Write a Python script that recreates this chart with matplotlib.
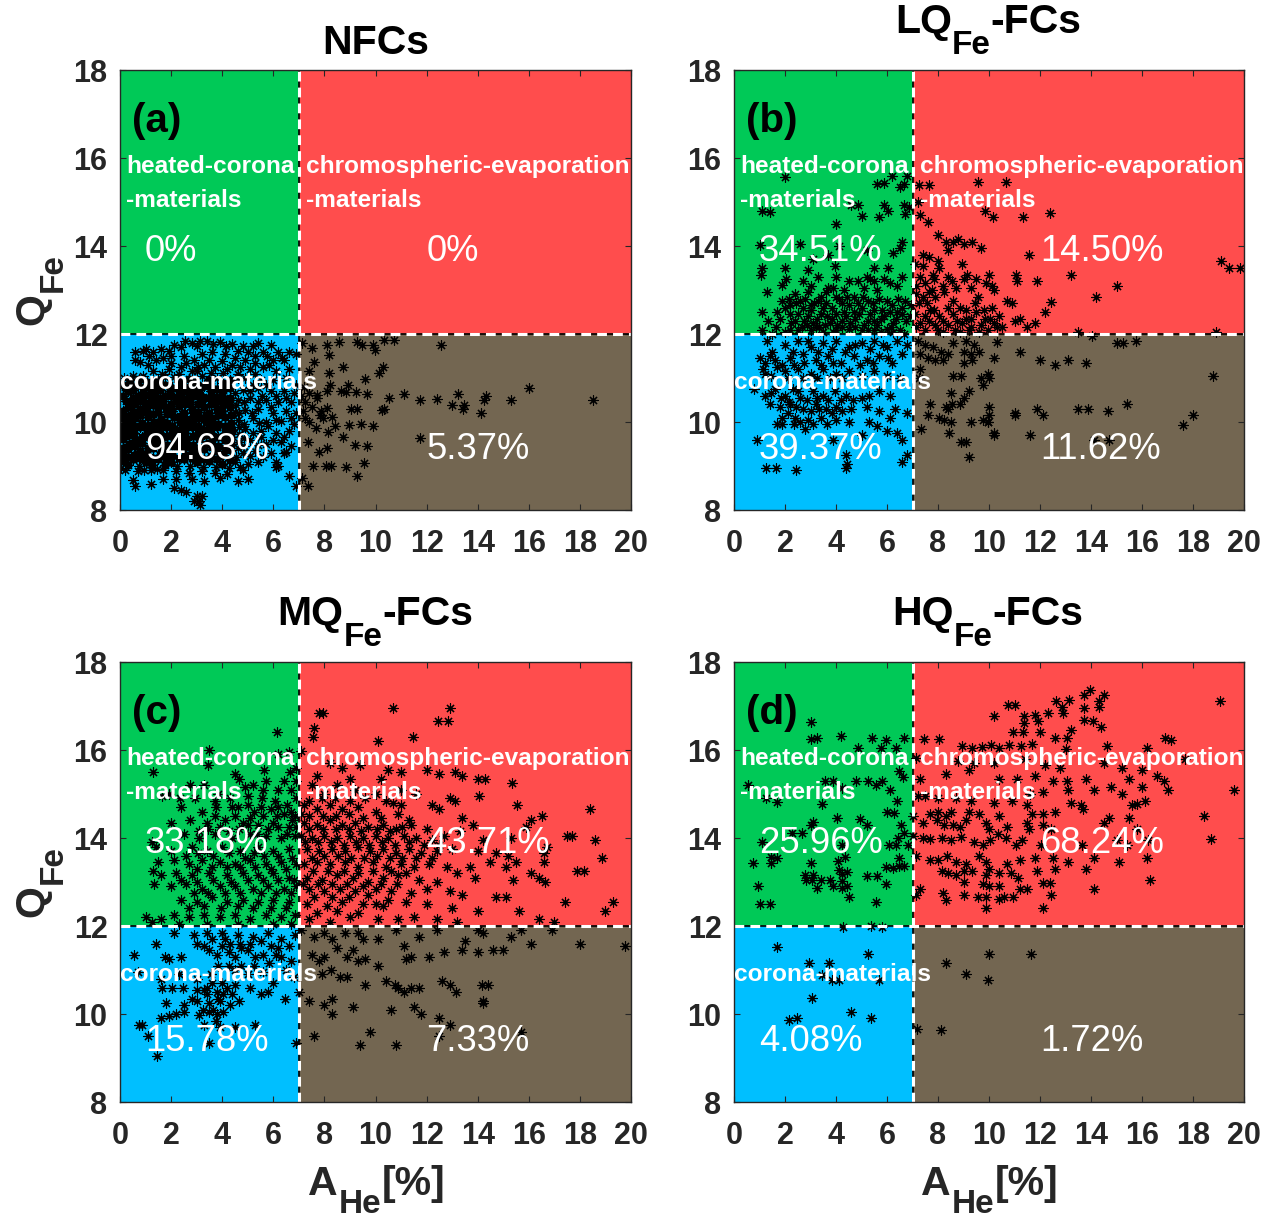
import numpy as np
import matplotlib as mpl
mpl.use('Agg')
import matplotlib.pyplot as plt
from matplotlib.patches import Rectangle

mpl.rcParams['font.family'] = ['Liberation Sans', 'DejaVu Sans']
mpl.rcParams['font.weight'] = 'bold'

tick_x = [0, 2, 4, 6, 8, 10, 12, 14, 16, 18, 20]
tick_y = [8, 10, 12, 14, 16, 18]
panel_tags = ['(a)', '(b)', '(c)', '(d)']
title_heads = ['LQ', 'MQ', 'HQ']
pct_hot = ['0%', '34.51%', '33.18%', '25.96%']
pct_chromo = ['0%', '14.50%', '43.71%', '68.24%']
pct_corona = ['94.63%', '39.37%', '15.78%', '4.08%']
pct_mixed = ['5.37%', '11.62%', '7.33%', '1.72%']

nfc_points = [
    (0.6,11.6),(0.9,11.62),(1.0,11.65),(1.6,11.65),(1.9,11.62),(2.4,11.7),(2.8,11.8),(3.0,11.72),(3.4,11.85),(3.9,11.82),
    (4.4,11.78),(4.8,11.72),(5.2,11.72),(5.9,11.75),(6.2,11.6),(6.9,11.55),(5.4,11.8),(0.6,11.4),(0.8,11.36),(1.1,11.3),
    (1.4,11.4),(1.7,11.45),(2.0,11.5),(2.5,11.5),(2.9,11.4),(3.2,11.55),(3.6,11.6),(4.1,11.55),(4.5,11.45),(5.3,11.5),
    (5.6,11.58),(6.0,11.4),(6.6,11.6),(1.3,11.15),(1.9,11.2),(2.4,11.25),(2.8,11.15),(3.3,11.3),(3.7,11.25),(4.2,11.2),
    (4.7,11.25),(5.1,11.2),(5.6,11.25),(6.1,11.15),(6.6,11.2),(0.5,11.05),(0.9,11.05),(1.5,10.95),(2.1,11.02),(2.7,10.98),
    (3.2,11.05),(3.8,11.0),(4.3,10.95),(4.9,11.0),(5.5,10.95),(6.0,10.95),(6.5,11.0),(6.9,10.85),
    (0.2,10.8),(0.7,10.85),(1.2,10.75),(1.7,10.85),(2.2,10.78),(2.7,10.8),(3.3,10.82),(3.8,10.75),(4.3,10.78),(4.8,10.72),(5.4,10.78),(5.9,10.7),(6.4,10.7),(6.8,10.65),
    (0.1,10.6),(0.5,10.55),(1.0,10.62),(1.5,10.55),(2.0,10.6),(2.5,10.52),(3.0,10.6),(3.5,10.55),(4.0,10.6),(4.6,10.5),(5.1,10.55),(5.7,10.5),(6.2,10.45),(6.7,10.45),
    (0.3,10.35),(0.8,10.3),(1.3,10.38),(1.8,10.32),(2.3,10.36),(2.8,10.3),(3.3,10.35),(3.8,10.3),(4.3,10.35),(4.9,10.28),(5.4,10.3),(6.0,10.2),(6.5,10.25),(6.9,10.2),
    (0.1,10.1),(0.6,10.08),(1.1,10.12),(1.6,10.06),(2.1,10.12),(2.6,10.05),(3.1,10.1),(3.6,10.06),(4.1,10.12),(4.6,10.05),(5.2,10.08),(5.7,10.0),(6.3,10.02),(6.8,9.95),
    (0.3,9.85),(0.8,9.88),(1.3,9.82),(1.8,9.88),(2.3,9.82),(2.8,9.88),(3.3,9.82),(3.8,9.88),(4.4,9.82),(4.9,9.85),(5.5,9.8),(6.1,9.75),(6.6,9.8),
    (0.1,9.62),(0.6,9.6),(1.1,9.65),(1.6,9.58),(2.1,9.62),(2.6,9.58),(3.1,9.62),(3.6,9.58),(4.1,9.6),(4.6,9.55),(5.1,9.6),(5.7,9.5),(6.3,9.55),
    (0.3,9.38),(0.8,9.35),(1.3,9.4),(1.8,9.35),(2.3,9.38),(2.8,9.32),(3.3,9.38),(3.8,9.33),(4.3,9.36),(4.8,9.3),(5.3,9.35),(5.9,9.3),(6.4,9.3),
    (0.1,9.12),(0.5,9.15),(1.0,9.1),(1.5,9.15),(2.0,9.1),(2.5,9.15),(3.0,9.08),(3.5,9.12),(4.0,9.05),(4.5,9.08),(5.0,9.05),(5.4,9.1),(6.1,9.08),
    (0.2,8.9),(0.7,8.88),(1.2,8.9),(1.7,8.92),(2.2,8.88),(2.7,8.85),(3.2,8.88),(3.7,8.85),(4.2,8.82),(4.8,8.9),(6.1,8.98),(5.0,8.7),
    (0.5,8.68),(0.6,8.55),(1.2,8.6),(1.7,8.7),(2.2,8.7),(2.8,8.7),(3.3,8.65),(3.9,8.72),(4.6,8.65),(6.6,8.78),(2.1,8.5),(2.4,8.45),(2.6,8.42),
    (3.0,8.32),(3.2,8.32),(2.9,8.2),(3.1,8.2),(3.15,8.12),(6.9,8.55),(5.6,9.2),(6.2,9.0),(6.5,9.32),
    (7.13,11.8),(7.53,11.68),(8.1,11.76),(8.57,11.81),(9.27,11.81),(9.46,11.74),(9.92,11.74),(9.99,11.63),(10.34,11.87),(10.73,11.87),
    (12.57,11.76),(8.18,11.52),(7.59,11.36),(8.74,11.25),(10.3,11.25),(10.14,11.11),(8.18,11.11),(7.4,11.15),(9.58,10.98),(8.21,10.85),
    (8.94,10.83),(8.64,10.71),(8.84,10.68),(9.23,10.68),(8.12,10.7),(9.66,10.64),(11.13,10.64),(10.54,10.54),(11.74,10.5),(12.39,10.52),
    (13.22,10.64),(14.33,10.6),(14.24,10.51),(13.0,10.38),(13.48,10.38),(13.42,10.3),(14.14,10.2),(10.25,10.27),(10.35,10.3),(9.03,10.3),
    (9.29,10.3),(8.12,10.32),(7.83,10.17),(7.95,10.1),(8.31,10.11),(7.26,10.09),(8.97,9.94),(9.45,9.95),(9.92,9.92),(8.42,9.9),
    (7.68,9.86),(8.14,9.77),(8.74,9.66),(11.74,9.64),(7.37,9.55),(9.2,9.48),(9.66,9.45),(8.09,9.4),(7.79,9.32),(7.55,8.99),
    (8.05,8.99),(8.25,8.99),(8.86,8.98),(9.55,9.07),(9.27,8.78),(7.36,8.55),(7.13,8.73),(15.3,10.5),(16.0,10.78),(18.5,10.5),
    (7.2,10.8),(7.4,10.65),(7.7,10.62),(7.25,10.45),(7.5,10.35),(7.15,10.25),(7.4,10.0),(7.7,10.55),(7.85,10.25),(7.1,10.6),
]

# heavy core of panel (a), where the marks merge to solid black
nfc_core = [
    (0.15,11.0),(0.4,10.95),(0.75,10.98),(1.05,10.9),(1.3,10.92),(1.75,11.02),(2.35,10.92),(2.95,10.9),(3.5,10.95),(4.05,10.88),
    (0.3,10.7),(0.5,10.72),(0.9,10.68),(1.35,10.7),(1.55,10.72),(1.95,10.7),(2.4,10.68),(2.6,10.7),(2.9,10.7),(3.1,10.72),(3.55,10.7),(4.05,10.72),(4.5,10.65),
    (0.25,10.48),(0.7,10.48),(0.85,10.5),(1.2,10.45),(1.7,10.48),(2.2,10.48),(2.4,10.45),(2.75,10.45),(3.2,10.48),(3.7,10.45),(3.85,10.48),(4.25,10.5),(4.85,10.45),
    (0.1,10.25),(0.5,10.22),(1.05,10.25),(1.5,10.22),(2.05,10.25),(2.5,10.2),(3.05,10.22),(3.5,10.2),(4.0,10.25),(4.5,10.22),(4.65,10.2),(5.15,10.2),(0.45,10.38),(1.55,10.38),
    (0.35,10.0),(0.85,9.98),(1.35,10.0),(1.85,9.98),(2.35,10.0),(2.85,9.98),(3.35,10.0),(3.85,9.96),(4.35,9.98),(4.85,9.95),(5.45,9.98),(0.55,10.15),(2.85,10.14),
    (0.1,9.78),(0.55,9.76),(1.05,9.75),(1.55,9.76),(2.05,9.75),(2.55,9.76),(3.05,9.74),(3.55,9.75),(4.1,9.74),(4.65,9.72),(5.2,9.75),(0.35,9.7),(1.85,9.68),(3.35,9.7),
    (0.35,9.5),(0.85,9.52),(1.35,9.5),(1.85,9.48),(2.35,9.52),(2.85,9.48),(3.35,9.5),(3.85,9.46),(4.35,9.5),(4.85,9.45),(0.6,9.46),(2.1,9.45),(3.6,9.44),(5.4,9.48),
    (0.1,9.28),(0.55,9.25),(1.05,9.28),(1.55,9.25),(2.05,9.26),(2.55,9.24),(3.05,9.26),(3.55,9.22),(4.05,9.24),(4.55,9.2),(0.3,9.2),(1.3,9.18),(2.8,9.18),(5.1,9.22),
    (0.3,9.02),(0.75,9.0),(1.25,9.02),(1.75,9.02),(2.25,9.0),(2.75,9.0),(3.25,8.98),(3.75,8.98),(4.25,8.96),(0.95,8.92),(1.45,8.94),(0.05,8.95),(4.7,8.98),
    (0.1,10.85),(0.45,10.82),(0.95,10.8),(1.45,10.82),(1.9,10.84),(2.45,10.83),(3.0,10.84),(3.55,10.82),(4.1,10.82),(0.7,10.6),(1.25,10.58),(1.75,10.6),(2.25,10.57),(2.75,10.57),(3.25,10.56),(3.75,10.57),(4.3,10.55),
    (0.55,10.42),(1.0,10.4),(1.45,10.42),(2.0,10.42),(2.55,10.4),(3.05,10.42),(3.55,10.42),(4.05,10.4),(4.55,10.38),(0.3,10.14),(0.8,10.16),(1.3,10.18),(1.85,10.18),(2.35,10.14),(3.35,10.17),(3.85,10.15),(4.35,10.15),
    (0.1,9.9),(0.55,9.92),(1.05,9.9),(1.55,9.92),(2.05,9.9),(2.55,9.92),(3.05,9.9),(3.55,9.92),(4.1,9.9),(4.65,9.88),(0.85,9.66),(1.35,9.66),(2.35,9.66),(2.85,9.68),(3.85,9.66),(4.35,9.66),(4.85,9.64),
    (0.1,9.42),(1.1,9.42),(1.6,9.42),(2.6,9.43),(3.1,9.42),(4.1,9.42),(4.6,9.4),(0.8,9.18),(1.8,9.18),(2.3,9.18),(3.3,9.17),(3.8,9.16),(4.3,9.14),
    (4.6,11.0),(5.2,10.85),(5.7,10.85),(5.1,10.7),(5.55,10.6),(6.1,10.6),(5.4,10.45),(5.9,10.35),(6.5,10.55),(6.7,10.1),(6.1,10.05),(5.8,9.9),(6.4,9.65),(6.0,9.6),(5.5,9.65),(6.7,9.45),
    (2.0,11.35),(2.6,11.35),(3.05,11.25),(3.5,11.4),(4.0,11.38),(4.4,11.3),(4.9,11.4),(5.3,11.33),(5.85,11.3),(6.4,11.4),(1.65,11.1),(2.3,11.1),(3.0,11.15),(3.55,11.12),(4.05,11.12),(4.6,11.1),(5.3,11.08),
    (2.1,11.75),(2.55,11.85),(3.15,11.85),(3.65,11.78),(4.15,11.72),(4.6,11.62),(5.0,11.6),(5.75,11.5),(6.35,11.45),(1.15,11.5),(1.3,11.6),
]

lq_points = [
    (2.0,15.56),(5.6,15.42),(5.9,15.43),(6.2,15.6),(6.8,15.6),(6.5,15.35),(6.65,15.4),(7.25,15.38),(1.1,14.8),(1.4,14.78),
    (4.6,14.94),(4.85,14.94),(5.0,14.68),(5.9,14.93),(6.05,14.8),(6.65,14.93),(6.85,14.88),(6.7,14.72),(5.7,14.65),(4.0,14.5),
    (1.0,14.02),(4.1,14.0),(2.6,14.05),(3.1,13.7),(3.7,13.8),(5.2,13.9),(6.25,13.85),(6.6,14.1),(6.5,13.95),(2.0,13.5),
    (1.1,13.5),(1.05,13.35),(2.9,13.45),(3.95,13.55),(5.5,13.5),(6.05,13.5),(5.2,13.3),(4.0,13.3),(3.3,13.3),(2.7,13.2),
    (2.05,13.25),(1.9,13.12),(1.3,12.95),(1.35,12.3),(2.6,12.75),(2.9,12.95),(3.4,12.85),(3.9,13.05),(4.5,13.2),(4.85,13.2),(5.35,13.25),
    (5.6,13.0),(6.1,13.15),(6.6,13.3),(6.7,12.75),(6.95,12.65),(2.0,12.6),(2.5,12.45),(3.0,12.55),(3.5,12.6),(4.0,12.45),
    (4.5,12.65),(5.0,12.6),(5.5,12.55),(6.0,12.75),(6.4,12.5),(1.8,12.35),(2.25,12.25),(2.75,12.3),(3.25,12.35),(3.75,12.25),
    (4.25,12.3),(4.75,12.35),(5.25,12.3),(5.75,12.35),(6.25,12.25),(6.75,12.3),(1.1,12.5),(1.1,12.1),(1.65,12.15),(2.5,12.1),
    (3.0,12.1),(3.5,12.05),(4.0,12.1),(4.5,12.12),(5.0,12.08),(5.5,12.1),(6.0,12.12),(6.5,12.1),(1.7,12.5),(2.15,12.8),
    (2.4,12.9),(3.15,12.7),(3.65,12.4),(4.25,12.7),(4.7,12.5),(5.25,12.75),(5.8,12.55),(6.1,12.5),(6.45,12.8),(6.9,12.4),
    (2.0,12.05),(4.7,12.85),(3.7,13.05),(2.7,12.6),(5.9,13.25),(3.2,12.15),(4.4,12.4),(5.5,12.3),(6.65,12.0),(1.5,12.0),
    (7.2,15.0),(7.3,14.7),(7.6,14.55),(7.65,15.38),(10.65,15.45),(9.55,15.45),(8.3,14.1),(8.6,14.1),(8.8,14.15),(9.0,14.05),
    (9.85,14.8),(10.15,14.65),(9.35,14.1),(11.35,14.65),(12.4,14.75),(8.0,14.25),(7.4,13.8),(7.65,13.75),(8.0,13.65),(8.05,13.5),
    (8.4,13.9),(8.95,13.6),(9.7,13.95),(11.55,13.8),(19.1,13.65),(19.4,13.5),(19.85,13.5),(13.2,13.35),(15.0,13.1),(11.9,13.2),
    (11.05,13.35),(11.1,13.2),(9.15,13.35),(9.5,13.25),(9.9,13.15),(10.0,13.35),(10.1,13.1),(10.2,13.0),(10.7,12.75),(10.9,12.7),
    (12.45,12.72),(12.2,12.5),(14.2,12.85),(7.1,13.6),(7.4,13.55),(7.8,13.35),(7.15,13.1),(7.5,13.15),(7.85,13.25),(8.2,13.1),(8.7,13.05),
    (9.0,13.25),(7.15,12.9),(7.55,12.7),(7.9,12.85),(8.25,12.95),(8.6,12.75),(9.1,12.55),(9.45,12.7),(9.8,12.55),(10.1,12.6),(10.4,12.4),
    (7.1,12.45),(7.5,12.4),(7.85,12.55),(8.2,12.3),(8.6,12.45),(8.95,12.25),(9.3,12.35),(9.7,12.2),(10.05,12.35),(10.5,12.15),(11.0,12.3),(11.2,12.35),
    (7.15,12.15),(7.5,12.1),(7.9,12.2),(8.2,12.05),(8.65,12.1),(9.2,12.1),(9.6,12.05),(10.3,12.15),(11.5,12.15),(11.8,12.25),(13.5,12.05),(18.9,12.05),
    (1.3,11.85),(1.5,11.6),(1.2,11.35),(1.0,11.45),(1.7,11.25),(1.2,11.1),(1.4,11.5),(2.0,11.75),(2.5,11.85),(3.0,11.7),
    (3.5,11.8),(4.0,11.85),(4.5,11.7),(5.0,11.8),(5.5,11.85),(6.0,11.7),(6.4,11.85),(6.8,11.75),(2.2,11.45),(2.7,11.55),
    (3.2,11.4),(3.7,11.5),(4.2,11.35),(4.7,11.5),(5.2,11.4),(5.7,11.5),(6.2,11.35),(2.0,11.15),(2.5,11.2),(3.0,11.1),
    (3.5,11.2),(4.0,11.1),(4.5,11.15),(5.0,11.05),(5.5,11.15),(6.0,11.05),(6.5,11.0),(0.8,10.75),(1.2,10.6),(1.6,10.75),
    (2.0,10.6),(2.3,10.75),(2.6,10.55),(3.1,10.7),(3.5,10.6),(3.95,10.7),(4.4,10.6),(5.0,10.55),(5.7,10.7),(6.1,10.6),
    (1.4,10.4),(1.8,10.35),(2.2,10.4),(2.7,10.3),(3.2,10.4),(3.6,10.3),(4.0,10.35),(4.6,10.3),(5.2,10.35),(5.7,10.25),
    (6.3,10.3),(6.8,10.2),(1.9,10.1),(2.4,10.1),(2.9,10.05),(3.4,10.1),(4.0,10.05),(4.5,10.0),(5.3,10.0),(5.6,9.9),
    (6.0,9.8),(6.4,9.75),(6.1,10.1),(0.9,9.6),(1.9,9.95),(2.8,9.85),(3.9,9.6),(5.0,9.7),(6.6,9.6),(6.8,9.25),(4.4,9.25),(4.45,9.05),
    (1.25,8.95),(1.65,8.95),(2.45,8.9),(6.6,9.1),(4.4,8.95),
    (7.2,11.85),(7.5,11.75),(7.8,11.7),(8.1,11.6),(8.4,11.55),(7.3,11.55),(7.6,11.45),(7.9,11.4),(8.2,11.4),(8.6,11.8),
    (9.1,11.85),(9.4,11.75),(9.0,11.6),(9.3,11.55),(9.6,11.6),(9.0,11.35),(9.35,11.4),(10.2,11.45),(10.3,11.82),(11.2,11.6),
    (12.0,11.4),(12.6,11.3),(13.1,11.4),(13.8,11.35),(14.05,11.95),(15.0,11.8),(15.25,11.8),(15.75,11.85),(7.3,11.2),(7.25,11.0),
    (8.6,11.05),(8.9,11.05),(9.7,11.0),(9.75,10.85),(9.95,11.1),(10.0,11.0),(9.2,10.7),(9.0,10.55),(8.5,10.65),(7.7,10.4),
    (8.3,10.35),(8.4,10.3),(8.55,10.4),(8.85,10.4),(8.5,10.0),(9.3,10.0),(10.0,10.35),(10.0,10.15),(9.95,10.0),(9.75,10.05),
    (9.95,10.0),(7.35,9.85),(7.6,10.15),(8.05,10.1),(8.25,10.05),(8.45,9.75),(8.9,9.55),(9.1,9.55),(10.2,9.75),(10.2,9.7),
    (11.0,10.2),(11.0,10.15),(11.9,10.3),(12.1,10.15),(13.5,10.3),(13.9,10.3),(14.65,10.25),(15.4,10.4),(17.6,9.93),(18.0,10.15),(18.8,11.05),
    (11.6,9.7),(9.2,9.2),(14.1,9.6),(14.7,9.6),
]

lq_core = [
    (2.2,12.45),(2.4,12.3),(2.65,12.15),(2.9,12.4),(3.1,12.25),(3.4,12.45),(3.55,12.2),(3.85,12.35),(4.05,12.2),(4.3,12.5),(4.55,12.25),(4.9,12.45),(5.1,12.2),(5.35,12.45),
    (5.6,12.2),(5.9,12.4),(6.15,12.15),(6.35,12.35),(6.6,12.45),(2.2,12.65),(2.45,12.7),(2.8,12.8),(3.0,12.65),(3.3,12.75),(3.6,12.7),(3.85,12.6),(4.1,12.8),(4.45,12.85),
    (4.85,12.7),(5.05,12.85),(5.45,12.7),(5.7,12.8),(6.2,12.65),(6.6,12.6),(2.2,12.1),(2.85,12.2),(3.35,12.15),(3.9,12.05),(4.25,12.15),(4.75,12.15),(5.25,12.1),(5.75,12.05),(6.25,12.05),
    (1.9,12.75),(3.6,12.95),(4.3,13.0),(4.0,12.85),(5.1,13.05),(5.5,13.2),(3.0,13.1),(6.4,13.1),(7.25,12.7),(7.4,12.85),(7.3,12.25),(7.65,12.3),(7.7,12.55),(8.05,12.4),
    (8.4,12.2),(8.4,12.6),(8.75,12.3),(8.85,12.6),(9.1,12.35),(9.3,12.15),(9.5,12.5),(9.85,12.35),(10.2,12.25),(7.75,13.0),(8.4,13.3),(8.55,13.2),(9.3,13.05),(9.55,12.85),
    (8.0,12.1),(8.85,12.05),(9.95,12.1),(7.3,13.3),(7.65,12.95),
    (1.15,11.2),(1.45,11.05),(1.6,11.4),(1.9,11.3),(2.3,11.6),(2.35,11.3),(2.75,11.35),(2.9,11.85),(3.3,11.6),(3.4,11.3),(3.85,11.65),(3.9,11.35),(4.35,11.6),(4.75,11.75),
    (4.95,11.3),(5.35,11.65),(5.45,11.35),(5.85,11.75),(6.05,11.45),(6.6,11.55),(2.1,11.0),(2.7,11.0),(3.25,11.0),(3.75,11.0),(4.25,11.0),(1.45,10.65),(1.85,10.55),(2.15,10.45),
    (2.5,10.7),(2.85,10.5),(3.25,10.55),(3.7,10.5),(4.2,10.5),(4.65,10.5),(5.3,10.6),(2.45,10.35),(3.0,10.25),(3.35,10.3),(3.85,10.2),(4.25,10.25),(2.1,10.2),(1.7,9.95),
    (2.35,9.95),(2.6,10.0),(3.1,9.95),(3.65,9.95),
]

mq_points = [
    (6.15,16.4),(3.5,16.0),(6.6,15.95),(6.2,15.9),(1.3,15.5),(3.45,15.65),(4.5,15.45),(5.65,15.55),(6.65,15.5),(6.9,15.3),
    (5.7,15.3),(4.65,15.35),(3.3,15.2),(2.75,15.2),(6.2,15.1),(6.7,15.1),(1.65,14.95),(1.9,15.0),(2.35,14.9),(2.95,14.9),
    (3.7,14.85),(4.3,14.9),(5.0,14.95),(5.55,14.9),(6.05,14.85),(6.55,14.75),(6.9,14.9),(2.4,14.7),(3.2,14.6),(3.75,14.7),(4.6,14.7),
    (5.25,14.6),(5.9,14.65),(6.4,14.55),(6.85,14.5),(2.0,14.35),(2.75,14.4),(3.4,14.35),(4.1,14.4),(4.8,14.35),(5.4,14.3),
    (6.0,14.35),(6.6,14.25),(1.25,13.9),(2.5,14.1),(3.1,14.0),(3.7,14.1),(4.4,14.0),(5.1,14.1),(5.7,14.05),(6.3,14.0),(6.85,14.05),
    (1.4,13.8),(2.0,13.7),(2.8,13.8),(3.4,13.7),(4.0,13.8),(4.7,13.7),(5.4,13.8),(6.0,13.7),(6.6,13.75),(1.5,13.45),(2.1,13.5),(2.7,13.4),
    (3.2,13.5),(3.9,13.45),(4.5,13.4),(5.1,13.5),(5.7,13.4),(6.3,13.45),(6.9,13.4),(1.3,13.25),(1.6,13.15),(2.2,13.2),(2.8,13.15),
    (3.5,13.2),(4.2,13.15),(4.8,13.2),(5.4,13.15),(6.0,13.2),(6.6,13.1),(1.35,12.95),(2.0,12.9),(2.6,12.95),(3.2,12.85),(3.9,12.9),
    (4.5,12.9),(5.2,12.85),(5.8,12.9),(6.4,12.85),(6.9,12.9),(2.4,12.6),(3.0,12.55),(3.6,12.65),(4.2,12.55),(4.8,12.6),
    (5.4,12.55),(6.0,12.6),(6.6,12.55),(1.0,12.2),(1.25,12.1),(1.6,12.15),(2.1,12.25),(2.7,12.2),(3.3,12.25),(3.9,12.2),(4.5,12.25),
    (5.1,12.15),(5.7,12.25),(6.3,12.2),(6.85,12.25),(2.3,12.05),(3.4,12.05),(4.6,12.05),(6.0,12.05),(6.7,12.05),
    (7.8,16.85),(7.95,16.85),(10.7,16.95),(12.9,16.95),(12.45,16.65),(12.85,16.65),(7.6,16.5),(7.55,16.3),(10.1,16.2),(11.45,16.3),
    (7.1,15.98),(8.2,15.7),(8.7,15.6),(9.4,15.65),(10.5,15.55),(11.0,15.5),(12.0,15.55),(12.5,15.45),(13.1,15.5),(13.4,15.4),
    (14.0,15.35),(14.3,15.35),(15.35,15.25),(14.05,14.95),(15.55,14.75),(18.4,14.65),(12.2,14.75),(12.9,14.9),(13.1,14.85),(7.5,15.2),
    (8.0,15.0),(8.5,15.2),(9.2,15.1),(10.0,15.0),(11.0,15.1),(11.6,15.0),(7.2,14.75),(7.7,14.65),(8.2,14.75),(8.7,14.65),(9.3,14.7),(10.0,14.6),
    (10.9,14.55),(11.3,14.4),(12.5,14.65),(13.4,14.45),(13.8,14.3),(13.3,14.15),(16.5,14.5),(16.1,14.4),(15.9,14.25),(17.5,14.05),(17.7,14.05),
    (7.2,14.35),(7.7,14.3),(8.2,14.4),(8.7,14.3),(9.2,14.35),(9.7,14.25),(10.3,14.3),(10.8,14.2),(11.4,14.3),(12.0,14.2),
    (7.1,14.05),(7.5,14.0),(8.0,14.05),(8.5,14.0),(9.0,14.05),(9.5,14.0),(10.0,14.05),(10.5,14.0),(11.1,14.05),(11.6,14.0),
    (12.2,13.95),(12.7,14.05),(14.2,13.95),(15.3,14.0),(16.7,13.8),(7.3,13.75),(7.8,13.7),(8.3,13.75),(8.8,13.7),(9.3,13.8),
    (9.8,13.7),(10.3,13.75),(10.8,13.65),(11.3,13.75),(11.8,13.65),(12.4,13.7),(13.0,13.75),(14.0,13.7),(14.7,13.65),(15.2,13.6),
    (16.6,13.65),(18.6,13.95),(18.85,13.55),(7.2,13.4),(7.7,13.45),(8.2,13.4),(8.8,13.45),(9.3,13.35),(9.9,13.45),(10.4,13.35),
    (11.0,13.4),(11.5,13.35),(12.1,13.4),(12.8,13.35),(13.7,13.35),(14.5,13.45),(15.1,13.35),(15.5,13.45),(16.6,13.45),(17.9,13.25),(18.15,13.25),
    (7.3,13.1),(7.9,13.05),(8.5,13.15),(9.1,13.1),(9.7,13.0),(10.3,13.1),(10.9,13.15),(11.7,13.05),(12.4,13.0),(13.2,13.2),(13.9,13.1),(15.4,13.05),
    (16.1,13.2),(16.4,13.1),(16.65,13.0),(7.4,12.85),(8.0,12.8),(8.6,12.85),(9.2,12.8),(10.0,12.85),(10.6,12.8),(11.4,12.75),(12.0,12.85),(12.9,12.8),
    (13.4,12.7),(14.7,12.65),(15.1,12.65),(17.4,12.55),(19.3,12.55),(19.0,12.35),(7.3,12.5),(8.1,12.45),(8.7,12.55),(9.5,12.5),(10.3,12.45),(11.2,12.55),(12.0,12.5),
    (13.0,12.4),(14.0,12.35),(15.6,12.35),(7.4,12.15),(8.2,12.1),(9.0,12.2),(10.1,12.15),(10.9,12.15),(11.5,12.2),(12.4,12.15),(13.2,12.1),(16.4,12.15),(17.0,12.1),
    (0.55,11.35),(1.4,11.6),(2.1,11.85),(2.9,11.8),(3.4,11.85),(4.0,11.85),(4.6,11.8),(5.2,11.75),(5.8,11.85),(6.3,11.7),(6.85,11.8),
    (1.75,11.3),(1.9,11.25),(2.4,11.3),(3.0,11.6),(3.5,11.45),(4.0,11.55),(4.5,11.3),(5.0,11.45),(5.6,11.35),(6.3,11.3),(6.7,11.2),
    (0.7,10.95),(1.6,10.8),(2.3,10.9),(3.0,10.8),(3.55,10.9),(4.0,10.7),(4.5,11.0),(5.0,10.9),(5.6,10.95),(6.0,10.7),(6.8,10.85),
    (1.65,10.6),(2.05,10.6),(2.45,10.6),(3.0,10.55),(3.4,10.6),(3.8,10.5),(4.2,10.6),(5.1,10.6),(5.5,10.45),(5.8,10.5),(6.45,10.35),
    (1.8,10.25),(2.5,10.2),(3.0,10.3),(3.5,10.25),(3.9,10.3),(4.3,10.2),(2.2,10.0),(2.5,10.05),(3.1,9.98),(3.5,10.05),(3.8,10.0),
    (0.75,9.75),(0.85,9.75),(1.6,9.9),(1.9,9.95),(3.3,9.75),(3.75,9.85),(4.5,9.7),(5.3,9.75),(1.1,9.5),(1.45,9.05),(3.5,9.35),(3.9,9.7),(6.9,9.35),
    (7.1,11.9),(7.6,11.75),(8.0,11.85),(8.3,11.7),(8.8,11.85),(9.3,11.85),(9.5,11.7),(10.1,11.7),(10.8,11.9),(11.1,11.55),(11.7,11.75),(12.4,11.9),(13.5,11.65),
    (14.0,11.9),(14.2,11.85),(15.7,11.9),(16.1,11.6),(16.9,11.9),(19.75,11.55),(18.0,11.6),(15.3,11.75),(7.5,11.35),(7.8,11.2),(8.0,11.3),(8.5,11.5),
    (8.9,11.3),(9.1,11.45),(9.3,11.2),(9.6,11.25),(10.1,11.1),(11.2,11.25),(11.4,11.3),(12.1,11.3),(12.7,11.4),(13.4,11.45),(14.0,11.4),(14.6,11.45),
    (15.0,11.45),(7.9,10.9),(8.25,11.0),(8.6,10.85),(8.9,10.85),(9.6,10.65),(10.4,10.75),(10.75,10.65),(11.4,10.6),(11.7,10.6),(12.6,10.75),(12.9,10.65),
    (13.15,10.5),(14.15,10.65),(14.4,10.65),(7.4,10.3),(8.3,10.0),(8.3,10.35),(9.1,10.15),(10.9,10.6),(11.1,10.5),(11.5,10.15),(14.2,10.3),(14.2,10.25),
    (8.0,10.2),(7.0,10.5),(12.5,9.5),(12.9,9.75),(12.5,9.9),(15.7,9.6),(7.6,9.5),(9.4,9.3),(10.8,9.3),(9.8,9.6),(11.8,10.0),(10.6,10.1),
]

mq_core = [
    (3.1,14.15),(3.45,14.2),(3.9,14.25),(4.25,14.15),(4.65,14.2),(5.0,14.3),(5.35,14.1),(5.8,14.2),(6.2,14.25),(6.55,14.1),(6.9,14.25),(2.6,13.6),(3.05,13.65),(3.65,13.6),
    (4.25,13.65),(4.9,13.55),(5.25,13.65),(5.65,13.6),(6.2,13.6),(6.75,13.55),(3.0,13.3),(3.6,13.35),(4.2,13.35),(4.7,13.35),(5.3,13.35),(5.9,13.3),(6.5,13.3),(2.4,13.05),(3.0,13.0),
    (3.65,13.05),(4.35,13.0),(5.0,13.05),(5.6,13.05),(6.2,13.05),(6.8,13.05),(2.9,12.75),(3.45,12.75),(4.1,12.75),(4.7,12.75),(5.5,12.75),(6.1,12.75),(6.7,12.75),(2.7,12.4),(3.3,12.45),
    (3.95,12.4),(4.6,12.45),(5.2,12.4),(5.9,12.4),(6.5,12.4),(3.7,14.5),(4.5,14.5),(5.1,14.45),(5.6,14.5),(6.15,14.5),(6.7,14.6),(4.4,14.7),(5.0,14.75),(5.5,14.7),(6.2,14.7),
    (6.75,14.4),(5.6,15.1),(5.2,15.2),(6.4,15.3),(6.9,15.6),(4.9,15.15),(3.85,15.0),
    (7.1,14.55),(7.4,14.5),(7.95,14.5),(8.45,14.5),(8.95,14.55),(9.5,14.45),(10.2,14.45),(7.4,14.2),(7.95,14.2),(8.45,14.2),(8.95,14.2),(9.45,14.15),(10.05,14.2),(10.55,14.15),(11.05,14.25),
    (7.25,13.9),(7.75,13.9),(8.25,13.9),(8.75,13.85),(9.25,13.9),(9.75,13.85),(10.25,13.9),(10.75,13.85),(11.3,13.9),(11.9,13.85),(12.5,13.85),(7.5,13.55),(8.0,13.6),(8.55,13.6),
    (9.05,13.55),(9.55,13.55),(10.05,13.6),(10.55,13.55),(11.05,13.55),(11.6,13.55),(12.2,13.55),(7.55,13.25),(8.15,13.25),(8.75,13.25),(9.3,13.2),(9.9,13.25),(10.6,13.25),(11.2,13.2),(7.15,12.95),
    (7.75,12.95),(8.3,12.95),(8.9,12.95),(9.5,12.9),(10.2,12.95),(10.85,12.95),(7.6,12.65),(8.3,12.65),(8.95,12.65),(9.7,12.7),(10.5,12.6),(7.7,12.3),(8.5,12.35),(9.3,12.3),(10.0,12.5),
    (7.9,14.9),(8.4,14.9),(9.0,14.85),(9.6,14.9),(10.4,14.85),(7.4,14.85),(10.7,14.8),(11.0,14.75),(7.7,15.4),(9.0,15.35),(10.2,15.35),
    (3.6,11.7),(4.1,11.7),(4.3,11.6),(4.7,11.6),(5.1,11.6),(5.5,11.65),(5.9,11.55),(6.2,11.5),(6.6,11.55),(3.3,11.55),(3.8,11.35),(4.25,11.4),(4.75,11.5),(5.3,11.3),(5.85,11.15),(6.1,11.35),
    (6.5,11.0),(3.85,11.1),(4.25,11.1),(4.75,11.1),(5.25,11.1),(3.3,10.55),(3.6,10.7),(3.85,10.35),(4.05,10.45),(4.4,10.45),(3.65,10.1),(4.05,10.05),(3.4,10.45),(2.8,10.35),(4.5,10.65),
    (3.25,10.1),(4.65,10.3),
]

hq_points = [
    (3.0,16.64),(3.0,16.25),(3.24,16.27),(4.19,16.31),(5.41,16.28),(5.95,16.23),(6.66,16.27),(4.85,16.05),(5.76,16.05),(6.35,16.05),
    (0.56,15.21),(1.25,14.91),(1.67,14.81),(3.58,15.3),(3.9,15.3),(4.79,15.29),(5.25,15.3),(5.56,15.2),(5.82,15.29),(6.13,15.08),
    (6.49,15.52),(6.62,15.39),(3.45,14.77),(4.23,15.14),(6.39,14.85),(6.0,14.59),(6.29,14.57),(4.03,14.45),(4.93,14.44),(3.08,14.36),
    (3.0,14.3),(5.23,14.29),(2.68,14.11),(2.28,14.11),(1.09,13.91),(4.23,13.85),(6.53,14.29),(6.68,14.11),(6.42,14.0),(6.09,13.85),
    (6.35,13.85),(6.82,13.85),(1.45,13.57),(1.67,13.55),(0.76,13.43),(1.45,13.43),(3.0,13.43),(4.07,13.47),(4.34,13.57),(6.49,13.55),
    (5.95,13.34),(6.22,13.32),(6.49,13.36),(6.68,13.36),(4.1,13.28),(4.23,13.19),(4.43,13.22),(2.77,13.17),(3.08,13.17),(2.81,13.05),
    (3.04,13.05),(3.4,13.05),(3.77,13.04),(5.23,13.14),(5.62,13.14),(4.23,13.02),(4.43,12.92),(4.23,12.86),(3.26,12.86),(3.87,12.9),
    (5.97,12.96),(0.93,12.9),(4.51,12.66),(1.01,12.51),(1.41,12.51),(5.56,12.55),
    (4.27,11.97),(5.36,11.99),(5.82,11.98),(1.67,11.52),(5.27,11.36),(2.93,11.17),(3.74,11.17),(3.47,10.89),(3.83,10.77),(4.1,10.77),
    (5.69,10.77),(3.06,10.36),(4.59,10.05),(5.36,9.92),(2.48,9.92),(2.15,9.87),
    (8.3,11.17),(10.0,11.36),(11.66,11.36),(9.11,10.92),(9.96,10.77),(7.19,9.66),(8.1,9.64),
    (19.05,17.11),(14.51,17.26),(13.98,17.36),(13.71,17.26),(14.31,17.11),(14.31,16.98),(13.71,16.95),(13.71,16.69),(14.08,16.65),(14.38,16.52),
    (12.63,17.11),(13.12,17.13),(12.85,16.98),(12.92,16.84),(12.32,16.84),(10.73,17.02),(11.0,17.02),(10.2,16.78),(11.39,16.77),(11.79,16.79),
    (11.92,16.65),(11.39,16.61),(11.99,16.42),(11.33,16.42),(10.93,16.42),(13.21,16.45),(13.05,16.27),(12.59,16.27),(7.45,16.25),(8.04,16.25),
    (16.9,16.27),(17.13,16.23),(14.62,16.08),(16.21,16.05),(8.94,16.08),(9.34,16.05),(9.73,16.07),(10.07,16.12),(10.4,16.05),(10.8,16.12),
    (11.26,16.1),(11.7,16.14),(13.0,16.02),(7.15,15.82),(8.8,15.75),(9.4,15.7),(10.2,15.7),(11.4,15.8),(12.2,15.65),(12.8,15.6),
    (14.5,15.7),(15.2,15.6),(17.7,15.8),(7.3,15.35),(8.3,15.45),(9.2,15.55),(10.4,15.35),(11.1,15.35),(11.8,15.4),(12.5,15.3),
    (13.05,15.3),(13.1,15.1),(13.8,15.35),(14.1,15.1),(14.8,15.15),(15.2,15.0),(15.5,15.35),(16.0,15.15),(16.6,15.4),(16.85,15.3),(17.0,15.1),
    (19.6,15.08),(16.0,15.55),(7.2,14.95),(7.5,14.95),(8.0,14.9),(8.7,14.9),(9.3,14.85),(10.2,14.8),(10.9,14.85),(11.6,15.0),(12.1,15.05),
    (13.2,14.8),(13.6,14.75),(15.6,14.75),(15.8,14.78),(16.1,14.85),(8.0,14.6),(7.7,14.55),(8.3,14.5),(8.5,14.6),(9.2,14.6),(9.6,14.55),
    (10.4,14.5),(11.5,14.75),(11.7,14.55),(12.1,14.55),(12.6,14.6),(13.7,14.65),(14.7,14.45),(14.5,14.35),(15.5,14.45),(18.45,14.5),
    (7.0,14.5),(7.4,14.35),(7.95,14.4),(8.25,14.3),(8.6,14.3),(8.85,14.25),(9.1,14.4),(9.9,14.35),(10.0,14.2),(10.7,14.25),(11.5,14.35),
    (11.55,14.2),(12.1,14.3),(12.45,14.2),(15.8,14.2),(7.0,14.05),(7.4,14.0),(7.7,13.98),(8.15,14.0),(8.5,13.95),(8.9,14.02),(9.4,13.9),
    (9.75,13.85),(10.05,13.95),(10.35,14.08),(10.65,14.0),(11.05,13.85),(11.3,13.95),(12.05,13.85),(13.65,13.85),(15.0,13.95),(15.4,13.85),(16.25,13.95),
    (18.7,13.98),(7.15,13.6),(7.7,13.5),(8.0,13.5),(8.35,13.6),(8.7,13.45),(9.1,13.4),(9.6,13.6),(9.35,13.25),(9.9,13.45),(10.0,13.3),
    (10.7,13.4),(11.2,13.5),(11.8,13.55),(12.5,13.55),(13.1,13.45),(14.1,13.55),(15.1,13.45),(16.2,13.55),(8.15,13.25),(8.4,13.2),(8.7,13.15),
    (9.0,13.25),(9.9,13.15),(10.4,13.2),(10.85,13.2),(11.15,13.1),(11.9,13.25),(12.6,13.3),(13.8,13.3),(16.3,13.05),(7.3,12.85),(8.2,12.75),
    (9.0,13.0),(9.75,12.95),(10.0,12.9),(10.4,12.9),(11.2,12.85),(11.5,12.85),(12.1,12.98),(12.4,12.98),(14.1,12.85),(7.15,12.7),(8.3,12.6),
    (9.0,12.7),(9.55,12.65),(9.9,12.65),(10.4,12.62),(10.6,12.65),(10.95,12.65),(12.45,12.7),(9.9,12.4),(12.1,12.4),
]

# one list per panel, same order as panel_tags
all_points = [nfc_points + nfc_core, lq_points + lq_core, mq_points + mq_core, hq_points]

fig = plt.figure(figsize=(12.77, 12.20), dpi=100)
W, H = 1277.0, 1220.0
lefts = [120, 734, 120, 734]
tops = [70, 70, 662, 662]
widths = [511, 510, 511, 510]
ink = '#262626'


def px_text(x, y, s, size, **kw):
    # text placed by pixel, baseline anchored, used for the labels with low subscripts
    return fig.text(x/W, 1-y/H, s, fontsize=size, fontweight='bold', va='baseline',
                    rotation_mode='anchor', **kw)


for i in range(4):
    ax = fig.add_axes([lefts[i]/W, 1-(tops[i]+440)/H, widths[i]/W, 440/H])
    ax.set_xlim(0, 20)
    ax.set_ylim(8, 18)

    # the four regions
    ax.add_patch(Rectangle((0, 12), 7, 6, color='#00C957', lw=0, zorder=0))
    ax.add_patch(Rectangle((7, 12), 13, 6, color='#FF4D4D', lw=0, zorder=0))
    ax.add_patch(Rectangle((0, 8), 7, 4, color='#00BFFF', lw=0, zorder=0))
    ax.add_patch(Rectangle((7, 8), 13, 4, color='#736651', lw=0, zorder=0))

    pts = np.array(all_points[i])
    ax.plot(pts[:, 0], pts[:, 1], linestyle='none', marker=(8, 2, 0), color='black',
            markersize=7.2, markeredgewidth=0.8, zorder=2)
    ax.plot(pts[:, 0], pts[:, 1], linestyle='none', marker='o', color='black',
            markersize=3.0, markeredgewidth=0, zorder=2)
    if i == 0:
        # the marks of panel (a) overlap completely in its core
        solid = (pts[:, 0] < 4.5) & (pts[:, 1] > 9.0) & (pts[:, 1] < 11.0)
        ax.plot(pts[solid, 0], pts[solid, 1], linestyle='none', marker='o', color='black',
                markersize=6.0, markeredgewidth=0, zorder=2)

    # boundaries
    ax.plot([7, 7], [8, 18], color='black', lw=1.2, zorder=3)
    ax.plot([0, 20], [12, 12], color='black', lw=1.2, zorder=3)
    ax.plot([7, 7], [8, 18], color='white', lw=2.2, linestyle=(0, (3.2, 2)), zorder=3)
    ax.plot([0, 20], [12, 12], color='white', lw=2.2, linestyle=(0, (3.2, 2)), zorder=3)

    ax.set_xticks(tick_x)
    ax.set_yticks(tick_y)
    ax.tick_params(axis='both', direction='in', length=4, width=0.8, top=True, right=True,
                   labelsize=22, labelcolor=ink, color=ink)
    ax.tick_params(axis='x', pad=14)
    ax.tick_params(axis='y', pad=9)
    for s in ax.spines.values():
        s.set_linewidth(1.0)
        s.set_edgecolor(ink)
        s.set_zorder(5)

    ax.text(0.47, 16.84, panel_tags[i], fontsize=29, fontweight='bold', color='black', va='center', zorder=6)
    ax.text(0.25, 15.8, 'heated-corona', fontsize=17.6, fontweight='bold', color='white', va='center', zorder=6)
    ax.text(0.25, 15.03, '-materials', fontsize=17.6, fontweight='bold', color='white', va='center', zorder=6)
    ax.text(7.28, 15.8, 'chromospheric-evaporation', fontsize=17.6, fontweight='bold', color='white', va='center', zorder=6)
    ax.text(7.28, 15.03, '-materials', fontsize=17.6, fontweight='bold', color='white', va='center', zorder=6)
    ax.text(0.0, 10.9, 'corona-materials', fontsize=17.6, fontweight='bold', color='white', va='center', zorder=6)
    ax.text(0.97, 13.88, pct_hot[i], fontsize=26.2, fontweight='normal', color='white', va='center', zorder=6)
    ax.text(12.0, 13.88, pct_chromo[i], fontsize=26.2, fontweight='normal', color='white', va='center', zorder=6)
    ax.text(0.97, 9.38, pct_corona[i], fontsize=26.2, fontweight='normal', color='white', va='center', zorder=6)
    ax.text(12.0, 9.38, pct_mixed[i], fontsize=26.2, fontweight='normal', color='white', va='center', zorder=6)

# titles, with the subscript set low as in the reference
px_text(322, 54, 'NFCs', 29.5, color='black')
title_left = [895, 277, 892]
title_sub = [952, 344, 954]
title_tail = [990, 382, 992]
title_base = [33, 625, 625]
for j in range(3):
    px_text(title_left[j], title_base[j], title_heads[j], 29.5, color='black')
    px_text(title_sub[j], title_base[j]+21, 'Fe', 24, color='black')
    px_text(title_tail[j], title_base[j], '-FCs', 29.5, color='black')

# y labels, rotated
for top in tops[:1] + tops[2:3]:
    px_text(43, top+255, 'Q', 29.5, color=ink, rotation=90)
    px_text(62, top+222, 'Fe', 24, color=ink, rotation=90)

# x labels
for left in [308, 921]:
    px_text(left, 1195, 'A', 29.5, color=ink)
    px_text(left+31, 1213, 'He', 24, color=ink)
    px_text(left+74, 1195, '[%]', 29.5, color=ink)

fig.savefig('out.png', dpi=100)
